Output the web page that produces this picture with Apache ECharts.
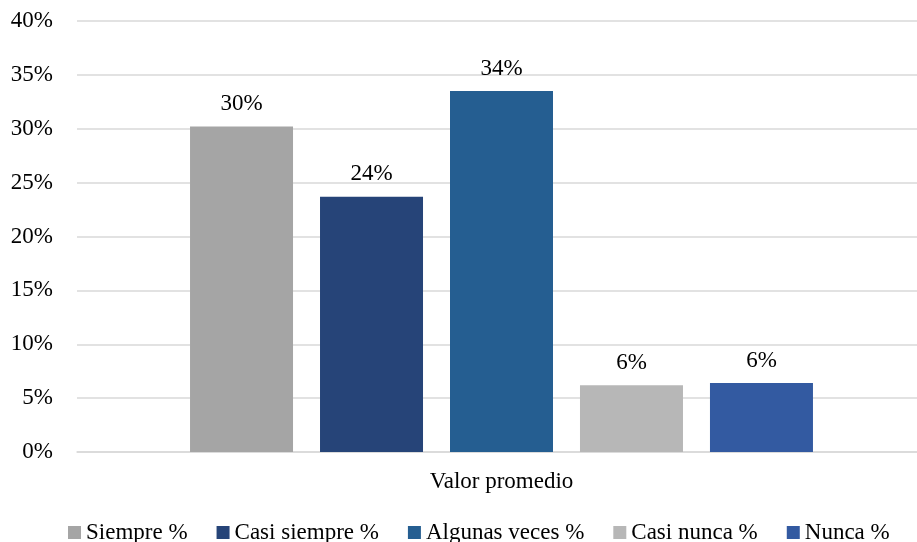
<!DOCTYPE html>
<html>
<head>
<meta charset="utf-8">
<style>
  html, body { margin: 0; padding: 0; background: #ffffff; overflow: hidden; }
  /* the plot area runs slightly past the right edge of the window */
  #chart { width: 926px; height: 542px; }
</style>
<script src="https://cdn.jsdelivr.net/npm/echarts@6/dist/echarts.min.js"></script>
</head>
<body>
<div id="chart"></div>
<script>
// Response distribution for the average score, in percent
const categories = ['Valor promedio'];
const seriesNames = ['Siempre %', 'Casi siempre %', 'Algunas veces %', 'Casi nunca %', 'Nunca %'];
const seriesValues = [30.2, 23.7, 33.5, 6.2, 6.4];
const seriesColors = ['#A5A5A5', '#264478', '#255E91', '#B7B7B7', '#335AA1'];

const FONT = "'Liberation Serif', 'Times New Roman', serif";

const chart = echarts.init(document.getElementById('chart'), null, { renderer: 'canvas' });

const series = seriesNames.map((name, i) => ({
  name: name,
  type: 'bar',
  data: [seriesValues[i]],
  barWidth: 103,
  barGap: '26.2%',
  itemStyle: { color: seriesColors[i] },
  label: {
    show: true,
    position: 'top',
    distance: 11,
    color: '#000000',
    fontFamily: FONT,
    fontSize: 23,
    formatter: p => Math.round(p.value) + '%'
  }
}));

chart.setOption({
  animation: false,
  textStyle: { fontFamily: FONT },
  grid: { left: 77, right: 0, top: 21, bottom: 90, containLabel: false },
  legend: {
    data: seriesNames,
    left: 68,
    top: 521,
    padding: 0,
    icon: 'rect',
    itemWidth: 13,
    itemHeight: 13,
    itemGap: 29,
    textStyle: { color: '#000000', fontFamily: FONT, fontSize: 23 }
  },
  xAxis: {
    type: 'category',
    data: categories,
    axisTick: { show: false },
    axisLine: { lineStyle: { color: '#D9D9D9', width: 1.5 } },
    axisLabel: { color: '#000000', fontFamily: FONT, fontSize: 23, margin: 18 }
  },
  yAxis: {
    type: 'value',
    min: 0,
    max: 40,
    interval: 5,
    axisLine: { show: false },
    axisTick: { show: false },
    axisLabel: { color: '#000000', fontFamily: FONT, fontSize: 23, margin: 24, formatter: '{value}%' },
    splitLine: { lineStyle: { color: '#D9D9D9', width: 1.5 } }
  },
  series: series
});
</script>
</body>
</html>
